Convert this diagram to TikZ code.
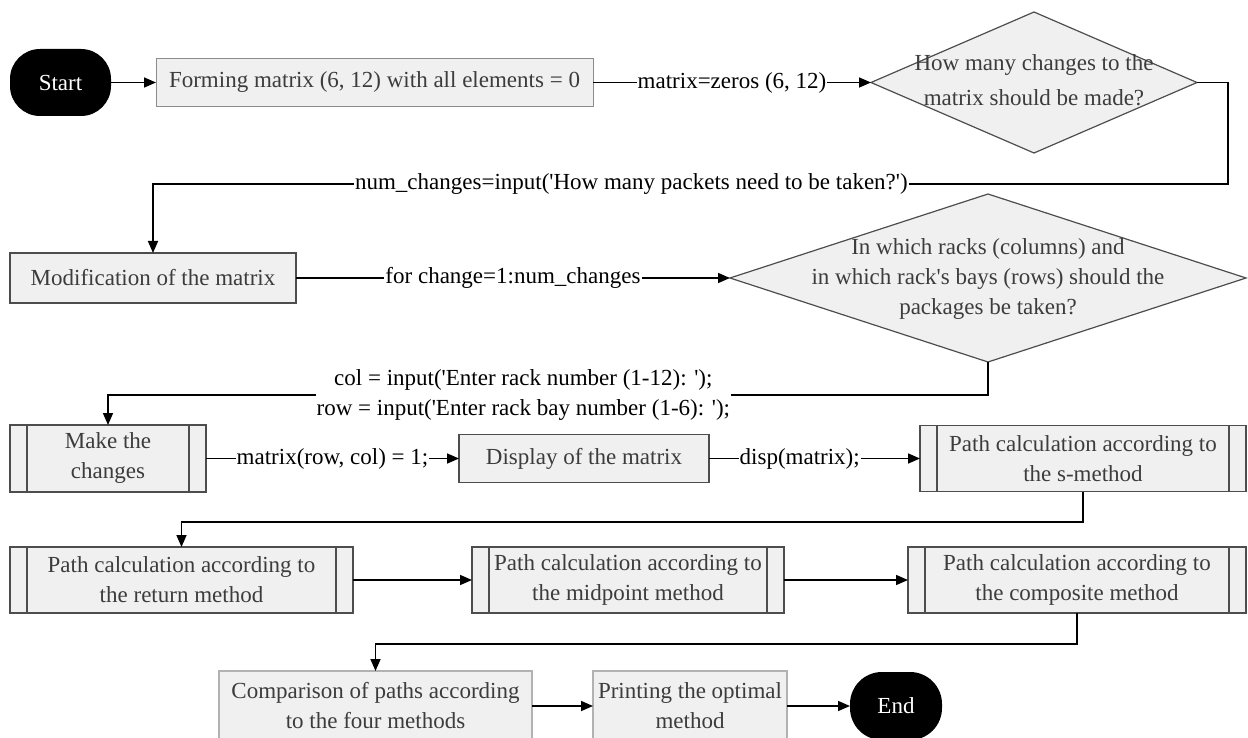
\documentclass[tikz,border=0pt]{standalone}
\usepackage{fontspec}
\setmainfont{Liberation Serif}[Ligatures=TeXOff]
\usetikzlibrary{shapes.geometric,arrows.meta}
\definecolor{boxfill}{HTML}{F0F0F0}
\definecolor{boxline}{HTML}{4D4D4D}
\definecolor{boxtext}{HTML}{3C3C3C}
\begin{document}
\begin{tikzpicture}[x=1pt,y=-1pt,
  font=\fontsize{23}{30}\selectfont,
  every node/.style={inner sep=0pt, outer sep=0pt},
  box/.style={draw=boxline, line width=1.2pt, fill=boxfill, text=boxtext, align=center},
  term/.style={fill=black, text=white, rounded corners=30pt},
  sub/.style={box, path picture={\draw[boxline, line width=1.2pt]
      ([xshift=17pt]path picture bounding box.north west) -- ([xshift=17pt]path picture bounding box.south west)
      ([xshift=-17pt]path picture bounding box.north east) -- ([xshift=-17pt]path picture bounding box.south east);}},
  dec/.style={diamond, draw=boxline, line width=1.2pt, fill=boxfill},
  dtext/.style={text=boxtext, align=center},
  lbl/.style={fill=white, inner sep=1pt, align=center},
  conn/.style={line width=1.6pt, draw=black},
  arr/.style={conn, -{Triangle[length=12pt,width=10pt]}}
]
\useasboundingbox (0,0) rectangle (1248,738);

% row 1
\node[term, minimum width=101pt, minimum height=67pt] (start) at (60.5,82.5) {Start};
\node[box, draw=gray!90, line width=1pt, minimum width=437pt, minimum height=48pt] (b1) at (374.5,82.5) {Forming matrix (6, 12) with all elements = 0};
\node[dec, minimum width=326pt, minimum height=141pt] (d1) at (1034,82.5) {};
\node[dtext, font=\fontsize{23}{35}\selectfont] (d1t) at (1034,80) {How many changes to the\\matrix should be made?};

% row 2
\node[box, minimum width=286pt, minimum height=50pt] (b2) at (153,278) {Modification of the matrix};
\node[dec, minimum width=516pt, minimum height=168pt] (d2) at (988,278) {};
\node[dtext] (d2t) at (988,279) {In which racks (columns) and\\in which rack's bays (rows) should the\\packages be taken?};

% row 3
\node[sub, minimum width=196pt, minimum height=67pt] (b3) at (108,458.5) {Make the\\changes};
\node[box, minimum width=250pt, minimum height=48pt] (b4) at (584,458.5) {Display of the matrix};
\node[sub, minimum width=326pt, minimum height=66pt] (b5) at (1083,458.5) {Path calculation according to\\the s-method};

% row 4
\node[sub, minimum width=343pt, minimum height=66pt] (b6) at (181.5,580) {Path calculation according to\\the return method};
\node[sub, minimum width=312pt, minimum height=66pt] (b7) at (628,580) {Path calculation according to\\the midpoint method};
\node[sub, minimum width=338pt, minimum height=66pt] (b8) at (1077,580) {Path calculation according to\\the composite method};

% row 5
\node[box, draw=gray!60, minimum width=313pt, minimum height=70pt] (b9) at (375.5,706) {Comparison of paths according\\to the four methods};
\node[box, draw=gray!60, minimum width=194pt, minimum height=70pt] (b10) at (690,706) {Printing the optimal\\method};
\node[term, minimum width=92pt, minimum height=68pt, rounded corners=32pt] (end) at (896,706) {End};

% connectors
\coordinate (c1) at (1228,184);
\coordinate (c2) at (988,395);
\coordinate (c3) at (1083,522);
\coordinate (c4) at (1077,644);

\draw[arr] (start) -- (b1);
\draw[arr] (b1) -- node[lbl]{matrix=zeros (6, 12)} (d1);
\draw[arr] (d1.east) -| (c1) -- node[lbl, pos=0.555]{num\_changes=input('How many packets need to be taken?')} (c1 -| b2) -- (b2.north);
\draw[arr] (b2) -- node[lbl]{for change=1:num\_changes} (d2);
\draw[arr] (d2.south) -- (c2) -- node[lbl, pos=0.528]{col = input('Enter rack number (1-12): ');\\row = input('Enter rack bay number (1-6): ');} (c2 -| b3) -- (b3.north);
\draw[arr] (b3) -- node[lbl]{matrix(row, col) = 1;} (b4);
\draw[arr] (b4) -- node[lbl, pos=0.43]{disp(matrix);} (b5);
\draw[arr] (b5.south) -- (c3) -- (c3 -| b6) -- (b6.north);
\draw[arr] (b6) -- (b7);
\draw[arr] (b7) -- (b8);
\draw[arr] (b8.south) -- (c4) -- (c4 -| b9) -- (b9.north);
\draw[arr] (b9) -- (b10);
\draw[arr] (b10) -- (end);
\end{tikzpicture}
\end{document}
